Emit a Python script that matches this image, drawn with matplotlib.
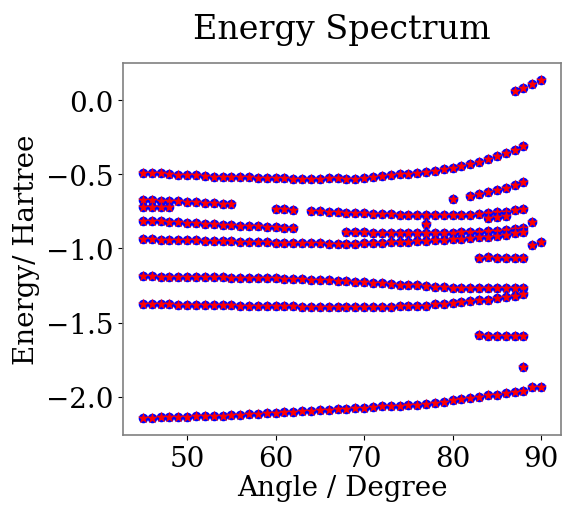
import numpy as np
import matplotlib
matplotlib.use("Agg")
import matplotlib.pyplot as plt

plt.rcParams['font.family'] = 'DejaVu Serif'

# energy levels (Hartree) vs angle (degree), one list per band
band_a_ang = list(range(45, 89))
band_a = [-0.489, -0.491, -0.494, -0.500, -0.503, -0.507, -0.508, -0.512, -0.515, -0.519,
          -0.519, -0.521, -0.521, -0.522, -0.523, -0.528, -0.528, -0.530, -0.532, -0.532,
          -0.530, -0.528, -0.528, -0.532, -0.533, -0.525, -0.519, -0.512, -0.505, -0.500,
          -0.499, -0.494, -0.487, -0.478, -0.467, -0.456, -0.445, -0.431, -0.415, -0.397,
          -0.377, -0.359, -0.334, -0.312]

top_ang = [87, 88, 89, 90]
top = [0.063, 0.083, 0.110, 0.137]

sub_ang = [80, 82, 83, 84, 85, 86, 87, 88]
sub = [-0.669, -0.647, -0.635, -0.620, -0.606, -0.590, -0.570, -0.550]

b1_ang = list(range(45, 56))
b1 = [-0.674, -0.676, -0.677, -0.680, -0.683, -0.687, -0.690, -0.692, -0.695, -0.699, -0.700]
b2_ang = [45, 46, 47, 48]
b2 = [-0.718, -0.718, -0.719, -0.722]

mid_ang = [60, 61, 62]
mid = [-0.735, -0.737, -0.739]

b3_ang = list(range(64, 89))
b3 = [-0.745, -0.748, -0.752, -0.754, -0.758, -0.762, -0.763, -0.766, -0.769, -0.771,
      -0.773, -0.775, -0.775, -0.776, -0.776, -0.776, -0.776, -0.775, -0.772, -0.766,
      -0.759, -0.756, -0.752, -0.741, -0.732]
short_ang = [84, 85, 86]
short = [-0.795, -0.788, -0.780]

c_ang = list(range(45, 63))
band_c = [-0.813, -0.815, -0.815, -0.819, -0.824, -0.826, -0.831, -0.835, -0.838, -0.842,
          -0.844, -0.847, -0.849, -0.851, -0.853, -0.858, -0.860, -0.865]

e_ang = list(range(68, 89))
band_e = [-0.887, -0.889, -0.891, -0.893, -0.895, -0.896, -0.897, -0.898, -0.897, -0.897,
          -0.896, -0.895, -0.894, -0.892, -0.890, -0.887, -0.884, -0.880, -0.875, -0.868,
          -0.860]

d_ang = list(range(45, 89))
band_d = [-0.937, -0.939, -0.940, -0.941, -0.943, -0.944, -0.946, -0.947, -0.949, -0.950,
          -0.952, -0.954, -0.956, -0.958, -0.959, -0.961, -0.962, -0.963, -0.964, -0.965,
          -0.966, -0.967, -0.968, -0.968, -0.967, -0.966, -0.964, -0.962, -0.959, -0.956,
          -0.954, -0.951, -0.948, -0.945, -0.942, -0.938, -0.934, -0.930, -0.925, -0.920,
          -0.914, -0.907, -0.899, -0.890]

lone_ang = [77, 89, 88]
lone = [-0.835, -0.824, -1.800]

r_ang = [89, 90]
band_r = [-0.980, -0.960]

k_ang = [83, 84, 85, 86, 87, 88]
band_k = [-1.067, -1.058, -1.065, -1.067, -1.068, -1.068]

f_ang = list(range(45, 89))
band_f = [-1.188, -1.189, -1.190, -1.191, -1.191, -1.192, -1.193, -1.194, -1.195, -1.196,
          -1.197, -1.198, -1.199, -1.200, -1.200, -1.203, -1.205, -1.207, -1.209, -1.211,
          -1.213, -1.215, -1.217, -1.221, -1.224, -1.228, -1.232, -1.236, -1.240, -1.244,
          -1.247, -1.250, -1.253, -1.258, -1.261, -1.264, -1.266, -1.267, -1.268, -1.268,
          -1.268, -1.269, -1.269, -1.269]

g_ang = list(range(45, 89))
band_g = [-1.376, -1.377, -1.377, -1.378, -1.379, -1.380, -1.381, -1.382, -1.383, -1.384,
          -1.385, -1.386, -1.387, -1.388, -1.389, -1.390, -1.391, -1.392, -1.393, -1.394,
          -1.395, -1.396, -1.396, -1.397, -1.397, -1.397, -1.396, -1.395, -1.393, -1.391,
          -1.388, -1.387, -1.386, -1.377, -1.372, -1.366, -1.360, -1.354, -1.350, -1.345,
          -1.336, -1.330, -1.320, -1.307]

h_ang = [83, 84, 85, 86, 87, 88]
band_h = [-1.583, -1.588, -1.592, -1.592, -1.594, -1.594]

low_ang = list(range(45, 91))
band_low = [-2.145, -2.142, -2.141, -2.140, -2.138, -2.136, -2.134, -2.132, -2.130, -2.128,
            -2.125, -2.122, -2.119, -2.116, -2.113, -2.110, -2.107, -2.104, -2.100, -2.097,
            -2.093, -2.090, -2.086, -2.082, -2.078, -2.074, -2.070, -2.066, -2.063, -2.061,
            -2.059, -2.055, -2.048, -2.042, -2.035, -2.026, -2.018, -2.008, -2.000, -1.992,
            -1.986, -1.979, -1.972, -1.965, -1.936, -1.936]

bands = [(band_a_ang, band_a), (top_ang, top), (sub_ang, sub), (b1_ang, b1), (b2_ang, b2),
         (mid_ang, mid), (b3_ang, b3), (short_ang, short), (c_ang, band_c), (e_ang, band_e),
         (d_ang, band_d), (lone_ang, lone), (r_ang, band_r), (k_ang, band_k),
         (f_ang, band_f), (g_ang, band_g), (h_ang, band_h), (low_ang, band_low)]

fig = plt.figure(figsize=(5.62, 5.06), dpi=100)
ax = fig.add_axes([123 / 562, 1 - 436 / 506, 438 / 562, 372 / 506])

for ang, en in bands:
    ax.scatter(ang, en, s=48, color='blue', marker='o', linewidths=0)
    ax.scatter(ang, en, s=72, color='red', marker='*', linewidths=0)

for sp in ax.spines.values():
    sp.set_color('gray')
    sp.set_linewidth(1.2)

ax.set_xticks([50, 60, 70, 80, 90])
ax.set_yticks([0.0, -0.5, -1.0, -1.5, -2.0])
ax.tick_params(labelsize=20)
ax.set_xlabel('Angle / Degree', fontsize=20, labelpad=2)
ax.set_ylabel('Energy/ Hartree', fontsize=20)
ax.set_title('Energy Spectrum', fontsize=24, pad=18)

fig.savefig('out.png', dpi=100)
